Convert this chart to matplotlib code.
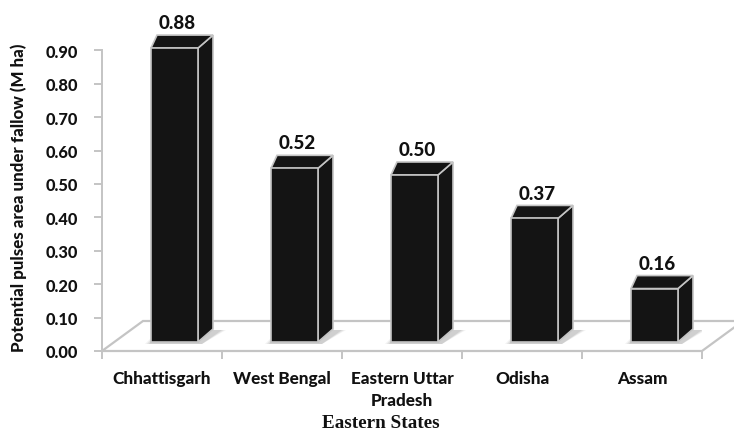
import numpy as np
import matplotlib
matplotlib.use('Agg')
import matplotlib.pyplot as plt
from matplotlib.patches import Polygon

#=========================================================================
states = ['Chhattisgarh', 'West Bengal', 'Eastern Uttar\nPradesh', 'Odisha', 'Assam']
area = [0.88, 0.52, 0.50, 0.37, 0.16]
yticks = np.arange(0.0, 0.91, 0.1)

# one pixel in data units (120 px per category, 334 px per M ha)
px = 1.0/120.0
py = 1.0/334.0

edgecol = '#c4c4c4'
barcol = '#141414'
txtcol = '#111111'
fnt = 'Lato'
fw = 900

fig = plt.figure(figsize=(7.34, 4.31), dpi=100)
ax = fig.add_axes([102/734, 79/431, 600/734, 334/431])
ax.set_xlim(0, 5)
ax.set_ylim(0, 1.0)

#-------------------------------------------------------------------------
# floor of the pseudo 3d chart
floor = Polygon([(0, 0), (5, 0), (5 + 41*px, 30*py), (41*px, 30*py)],
                closed=True, facecolor='white', edgecolor=edgecol,
                lw=1.6, zorder=1, clip_on=False)
ax.add_patch(floor)

#-------------------------------------------------------------------------
# bars: front face, top face, side face
for i, v in enumerate(area):
  x0 = i + 0.5 - 11*px
  x1 = x0 + 47*px
  yb = 9*py
  yt = v + 9*py

  # soft shadow on the floor
  for k, a in enumerate([0.10, 0.14, 0.18]):
    g = 6 - 2*k
    sh = Polygon([(x0 - g*px, yb - 2*py), (x1 + 4*px, yb - 2*py),
                  (x1 + 22*px + g*px, yb + 12*py), (x0 + 8*px, yb + 12*py)],
                 closed=True, facecolor='#808080', edgecolor='none',
                 alpha=a, zorder=2)
    ax.add_patch(sh)

  side = Polygon([(x1, yb), (x1 + 15*px, yb + 13*py), (x1 + 15*px, yt + 13*py), (x1, yt)],
                 closed=True, facecolor=barcol, edgecolor=edgecol, lw=1.2, zorder=3,
                 clip_on=False)
  top = Polygon([(x0, yt), (x1, yt), (x1 + 15*px, yt + 13*py), (x0 + 6*px, yt + 13*py)],
                closed=True, facecolor=barcol, edgecolor=edgecol, lw=1.2, zorder=3,
                clip_on=False)
  front = Polygon([(x0, yb), (x1, yb), (x1, yt), (x0, yt)],
                  closed=True, facecolor=barcol, edgecolor=edgecol, lw=1.2, zorder=4,
                  clip_on=False)
  ax.add_patch(side)
  ax.add_patch(top)
  ax.add_patch(front)

  ax.text((x0 + x1)/2 + 3*px, v + 0.103, '%.2f' % v, ha='center', va='center',
          fontsize=13.5, fontweight=fw, family=fnt, color=txtcol)

#-------------------------------------------------------------------------
# axes styling
for s in ['top', 'right', 'bottom']:
  ax.spines[s].set_visible(False)
ax.spines['left'].set_bounds(0, 0.9)
ax.spines['left'].set_color(edgecol)
ax.spines['left'].set_linewidth(1.4)

ax.set_yticks(yticks)
ax.set_yticklabels(['%.2f' % t for t in yticks], fontsize=11.8, fontweight=fw,
                   family=fnt, color=txtcol)
ax.tick_params(axis='y', colors=edgecol, length=6, width=1.4, labelcolor=txtcol, pad=11)

ax.set_xticks(np.arange(0, 6))
ax.set_xticklabels([])
ax.set_xticks(np.arange(0.5, 5.5), minor=True)
ax.set_xticklabels(states, minor=True, fontsize=12.3, fontweight=fw,
                   family=fnt, color=txtcol, linespacing=1.4)
ax.tick_params(axis='x', which='major', colors=edgecol, length=6, width=1.4)
ax.tick_params(axis='x', which='minor', length=0, pad=14, labelcolor=txtcol)

ax.set_ylabel('Potential pulses area under fallow (M ha)', fontsize=12.2,
              fontweight=fw, family=fnt, color=txtcol)
ax.yaxis.set_label_coords(-75/600, 0.461)
fig.text(381/734, 1 - 424/431, 'Eastern States', ha='center', va='center',
         fontsize=13.8, fontweight='bold', family='Liberation Serif', color=txtcol)

plt.savefig('out.png', dpi=100)
